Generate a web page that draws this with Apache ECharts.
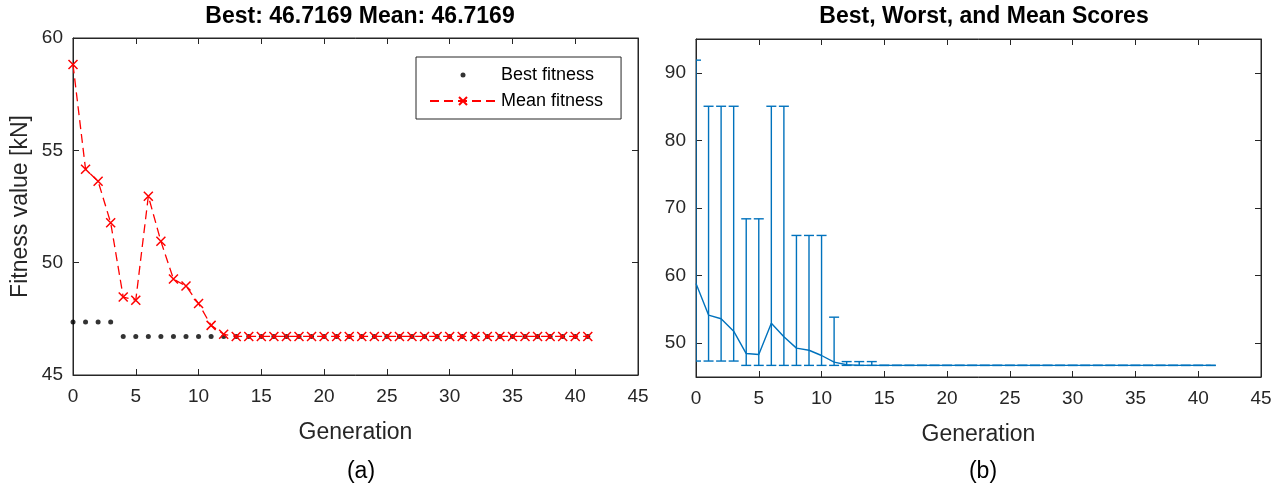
<!DOCTYPE html>
<html>
<head>
<meta charset="utf-8">
<script src="https://cdn.jsdelivr.net/npm/echarts@6/dist/echarts.min.js"></script>
<style>
  html, body { margin: 0; padding: 0; background: #ffffff; }
  #chart { width: 1284px; height: 493px; }
</style>
</head>
<body>
<div id="chart"></div>
<script>
// Genetic algorithm run: per-generation fitness statistics
const generations = [0,1,2,3,4,5,6,7,8,9,10,11,12,13,14,15,16,17,18,19,20,
  21,22,23,24,25,26,27,28,29,30,31,32,33,34,35,36,37,38,39,40,41];

const bestFitness = [47.36,47.36,47.36,47.36,46.7169,46.7169,46.7169,46.7169,46.7169,46.7169,
  46.7169,46.7169,46.7169,46.7169,46.7169,46.7169,46.7169,46.7169,46.7169,46.7169,
  46.7169,46.7169,46.7169,46.7169,46.7169,46.7169,46.7169,46.7169,46.7169,46.7169,
  46.7169,46.7169,46.7169,46.7169,46.7169,46.7169,46.7169,46.7169,46.7169,46.7169,
  46.7169,46.7169];

const meanFitness = [58.82,54.16,53.62,51.78,48.47,48.33,52.96,50.95,49.27,48.96,
  48.18,47.21,46.81,46.7169,46.7169,46.7169,46.7169,46.7169,46.7169,46.7169,
  46.7169,46.7169,46.7169,46.7169,46.7169,46.7169,46.7169,46.7169,46.7169,46.7169,
  46.7169,46.7169,46.7169,46.7169,46.7169,46.7169,46.7169,46.7169,46.7169,46.7169,
  46.7169,46.7169];

const worstFitness = [91.87,85.05,85.05,85.05,68.4,68.4,85.05,85.05,65.94,65.94,
  65.94,53.85,47.28,47.28,47.28,46.7169,46.7169,46.7169,46.7169,46.7169,
  46.7169,46.7169,46.7169,46.7169,46.7169,46.7169,46.7169,46.7169,46.7169,46.7169,
  46.7169,46.7169,46.7169,46.7169,46.7169,46.7169,46.7169,46.7169,46.7169,46.7169,
  46.7169,46.7169];

const leftTitle = 'Best: 46.7169 Mean: 46.7169';
const rightTitle = 'Best, Worst, and Mean Scores';
const rightYTicks = [50, 60, 70, 80, 90];

const FONT = '"Liberation Sans", Arial, Helvetica, sans-serif';
const AXIS = '#262626';
const BLUE = '#0072BD';
const TICK_FS = 19;
const NAME_FS = 23;

const chart = echarts.init(document.getElementById('chart'), null, { renderer: 'canvas' });

function mainX(gridIndex) {
  return {
    type: 'value', gridIndex: gridIndex, min: 0, max: 45, interval: 5,
    name: 'Generation', nameLocation: 'middle', nameGap: 46,
    nameTextStyle: { fontFamily: FONT, fontSize: NAME_FS, color: AXIS },
    axisLine: { show: true, onZero: false, lineStyle: { color: AXIS, width: 1 } },
    axisTick: { show: true, inside: true, length: 6, lineStyle: { color: AXIS } },
    axisLabel: { show: true, margin: 12, fontFamily: FONT, fontSize: TICK_FS, color: AXIS },
    splitLine: { show: false }
  };
}
function mirrorX(gridIndex) {
  return {
    type: 'value', gridIndex: gridIndex, position: 'top', min: 0, max: 45, interval: 5,
    axisLine: { show: true, onZero: false, lineStyle: { color: AXIS, width: 1 } },
    axisTick: { show: true, inside: true, length: 6, lineStyle: { color: AXIS } },
    axisLabel: { show: false }, splitLine: { show: false }
  };
}

// Error bar glyph: vertical stroke from best to worst with short caps
function renderRange(params, api) {
  const g = api.value(0);
  const lo = api.coord([g, api.value(1)]);
  const hi = api.coord([g, api.value(2)]);
  const hw = 5;
  const cs = params.coordSys;
  const st = { stroke: BLUE, lineWidth: 1.4, fill: null };
  return {
    type: 'group',
    clipPath: { type: 'rect', shape: { x: cs.x, y: cs.y, width: cs.width, height: cs.height } },
    children: [
      { type: 'line', shape: { x1: lo[0], y1: lo[1], x2: hi[0], y2: hi[1] }, style: st },
      { type: 'line', shape: { x1: lo[0] - hw, y1: lo[1], x2: lo[0] + hw, y2: lo[1] }, style: st },
      { type: 'line', shape: { x1: hi[0] - hw, y1: hi[1], x2: hi[0] + hw, y2: hi[1] }, style: st }
    ]
  };
}

const crossSymbol = 'path://M0,0L10,10M10,0L0,10';

const option = {
  backgroundColor: '#ffffff',
  animation: false,
  textStyle: { fontFamily: FONT },
  title: [
    { text: leftTitle, left: 355, top: 0, textAlign: 'center',
      textStyle: { fontFamily: FONT, fontSize: 23, fontWeight: 'bold', color: '#000' } },
    { text: rightTitle, left: 979, top: 0, textAlign: 'center',
      textStyle: { fontFamily: FONT, fontSize: 23, fontWeight: 'bold', color: '#000' } },
    { text: '(a)', left: 356, top: 455, textAlign: 'center',
      textStyle: { fontFamily: FONT, fontSize: 23, fontWeight: 'normal', color: '#000' } },
    { text: '(b)', left: 978, top: 455, textAlign: 'center',
      textStyle: { fontFamily: FONT, fontSize: 23, fontWeight: 'normal', color: '#000' } }
  ],
  legend: {
    left: 416, top: 57, orient: 'vertical',
    backgroundColor: '#ffffff', borderColor: AXIS, borderWidth: 1,
    padding: [9, 18, 9, 13], itemGap: 8, itemWidth: 66, itemHeight: 10,
    textStyle: { fontFamily: FONT, fontSize: 18, color: '#000' },
    data: [
      { name: 'Best fitness', icon: 'path://M0,0M66,10M30.5,5a2.5,2.5 0 1,0 5,0a2.5,2.5 0 1,0 -5,0' },
      { name: 'Mean fitness' }
    ]
  },
  grid: [
    { left: 73, top: 38, width: 565, height: 337, show: true, borderColor: AXIS, borderWidth: 1, backgroundColor: 'transparent' },
    { left: 696, top: 39, width: 565, height: 338, show: true, borderColor: AXIS, borderWidth: 1, backgroundColor: 'transparent' }
  ],
  xAxis: [ mainX(0), mirrorX(0), mainX(1), mirrorX(1) ],
  yAxis: [
    {
      type: 'value', gridIndex: 0, min: 45, max: 60, interval: 5,
      name: 'Fitness value [kN]', nameLocation: 'middle', nameGap: 41,
      nameTextStyle: { fontFamily: FONT, fontSize: NAME_FS, color: AXIS },
      axisLine: { show: true, onZero: false, lineStyle: { color: AXIS } },
      axisTick: { show: true, inside: true, length: 6, lineStyle: { color: AXIS } },
      axisLabel: { margin: 10, fontFamily: FONT, fontSize: TICK_FS, color: AXIS },
      splitLine: { show: false }
    },
    {
      type: 'value', gridIndex: 0, position: 'right', min: 45, max: 60, interval: 5,
      axisLine: { show: true, onZero: false, lineStyle: { color: AXIS } },
      axisTick: { show: true, inside: true, length: 6, lineStyle: { color: AXIS } },
      axisLabel: { show: false }, splitLine: { show: false }
    },
    {
      type: 'value', gridIndex: 1, min: 45, max: 95,
      axisLine: { show: true, onZero: false, lineStyle: { color: AXIS } },
      axisTick: { show: true, inside: true, length: 6, lineStyle: { color: AXIS }, customValues: rightYTicks },
      axisLabel: { margin: 10, fontFamily: FONT, fontSize: TICK_FS, color: AXIS, customValues: rightYTicks },
      splitLine: { show: false }
    },
    {
      type: 'value', gridIndex: 1, position: 'right', min: 45, max: 95,
      axisLine: { show: true, onZero: false, lineStyle: { color: AXIS } },
      axisTick: { show: true, inside: true, length: 6, lineStyle: { color: AXIS }, customValues: rightYTicks },
      axisLabel: { show: false }, splitLine: { show: false }
    }
  ],
  series: [
    {
      name: 'Best fitness', type: 'scatter', xAxisIndex: 0, yAxisIndex: 0,
      symbol: 'circle', symbolSize: 5,
      itemStyle: { color: '#000000' },
      data: generations.map((g, i) => [g, bestFitness[i]]),
      z: 3
    },
    {
      name: 'Mean fitness', type: 'line', xAxisIndex: 0, yAxisIndex: 0,
      symbol: crossSymbol, symbolSize: 9, showAllSymbol: true,
      lineStyle: { color: '#ff0000', width: 1.3, type: [9, 5] },
      itemStyle: { color: 'rgba(0,0,0,0)', borderColor: '#ff0000', borderWidth: 1.5 },
      data: generations.map((g, i) => [g, meanFitness[i]]),
      z: 4
    },
    {
      name: 'Range', type: 'custom', xAxisIndex: 2, yAxisIndex: 2,
      renderItem: renderRange,
      data: generations.map((g, i) => [g, bestFitness[i], worstFitness[i]]),
      z: 3
    },
    {
      name: 'Mean', type: 'line', xAxisIndex: 2, yAxisIndex: 2,
      symbol: 'none',
      lineStyle: { color: BLUE, width: 1.4 },
      data: generations.map((g, i) => [g, meanFitness[i]]),
      z: 4
    }
  ]
};

chart.setOption(option);
</script>
</body>
</html>
